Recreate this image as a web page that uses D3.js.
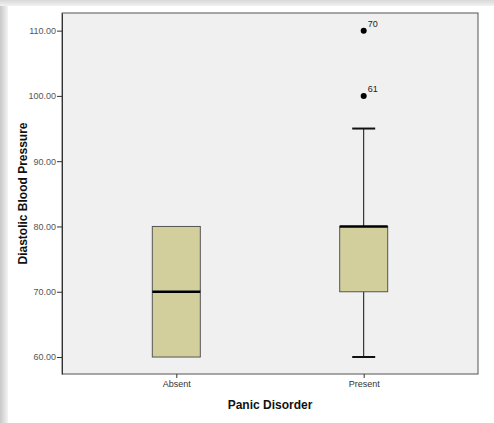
<!DOCTYPE html>
<html>
<head>
<meta charset="utf-8">
<script src="https://cdn.jsdelivr.net/npm/d3@7"></script>
<style>
  body { margin: 0; background: #fff; }
  svg { display: block; font-family: "Liberation Sans", Arial, sans-serif; }
</style>
</head>
<body>
<svg id="chart" width="494" height="423"></svg>
<script>
// box plot values
var groups = ["Absent", "Present"];
var q1 = [60, 70];
var medians = [70, 80];
var q3 = [80, 80];
var whiskLo = [60, 60];
var whiskHi = [80, 95];
var outliers = [
  {group: "Present", value: 100, label: "61"},
  {group: "Present", value: 110, label: "70"}
];
var yTicks = [60, 70, 80, 90, 100, 110];

var svg = d3.select('#chart');
// note: "top" clashes with window.top, so use pTop etc.
var pLeft = 62, pRight = 478, pTop = 13, pBottom = 374;

// frame shadow on the left and top edge
var defs = svg.append('defs');
var gl = defs.append('linearGradient').attr('id', 'shL');
gl.append('stop').attr('offset', '0%').attr('stop-color', '#c8c8c8');
gl.append('stop').attr('offset', '100%').attr('stop-color', '#f4f4f4');
var gt = defs.append('linearGradient').attr('id', 'shT')
  .attr('x1', 0).attr('y1', 0).attr('x2', 0).attr('y2', 1);
gt.append('stop').attr('offset', '0%').attr('stop-color', '#d8d8d8');
gt.append('stop').attr('offset', '100%').attr('stop-color', '#f2f2f2');
svg.append('rect').attr('x', 0).attr('y', 0).attr('width', 8).attr('height', 423).attr('fill', 'url(#shL)');
svg.append('rect').attr('x', 0).attr('y', 0).attr('width', 494).attr('height', 6).attr('fill', 'url(#shT)');

var y = d3.scaleLinear().domain([57.4, 112.7]).range([pBottom, pTop]);
var x = d3.scalePoint().domain(groups).range([pLeft, pRight]).padding(0.61);

svg.append('rect')
  .attr('x', pLeft).attr('y', pTop)
  .attr('width', pRight - pLeft).attr('height', pBottom - pTop)
  .attr('fill', '#f0f0f0')
  .attr('stroke', '#555').attr('stroke-width', 1);

var yAxis = svg.append('g')
  .attr('transform', 'translate(' + pLeft + ',0)')
  .call(d3.axisLeft(y).tickValues(yTicks).tickSize(5).tickSizeOuter(0).tickPadding(1).tickFormat(d3.format('.2f')));
yAxis.select('.domain').attr('stroke', '#333');
yAxis.selectAll('.tick line').attr('stroke', '#333');
yAxis.selectAll('text').attr('font-size', 9).attr('fill', '#555').attr('font-family', 'Liberation Sans, Arial');

var xAxis = svg.append('g')
  .attr('transform', 'translate(0,' + pBottom + ')')
  .call(d3.axisBottom(x).tickSize(4).tickSizeOuter(0).tickPadding(3));
xAxis.select('.domain').remove();
xAxis.selectAll('.tick line').attr('stroke', '#333');
xAxis.selectAll('text').attr('font-size', 9).attr('fill', '#333').attr('font-family', 'Liberation Sans, Arial');

var boxW = 48, capW = 23;
var data = groups.map(function (g, i) {
  return {g: g, q1: q1[i], med: medians[i], q3: q3[i], lo: whiskLo[i], hi: whiskHi[i]};
});

var box = svg.selectAll('.box').data(data).enter().append('g').attr('class', 'box');

// whiskers
box.append('line')
  .attr('x1', function (d) { return x(d.g); }).attr('x2', function (d) { return x(d.g); })
  .attr('y1', function (d) { return y(d.q3); }).attr('y2', function (d) { return y(d.hi); })
  .attr('stroke', '#111');
box.append('line')
  .attr('x1', function (d) { return x(d.g); }).attr('x2', function (d) { return x(d.g); })
  .attr('y1', function (d) { return y(d.q1); }).attr('y2', function (d) { return y(d.lo); })
  .attr('stroke', '#111');

box.append('rect')
  .attr('x', function (d) { return x(d.g) - boxW / 2; })
  .attr('y', function (d) { return y(d.q3); })
  .attr('width', boxW)
  .attr('height', function (d) { return y(d.q1) - y(d.q3); })
  .attr('fill', '#d3cf9d')
  .attr('stroke', '#555').attr('stroke-width', 1);

// caps, only where the whisker sticks out of the box
box.filter(function (d) { return d.hi > d.q3; }).append('line')
  .attr('x1', function (d) { return x(d.g) - capW / 2; })
  .attr('x2', function (d) { return x(d.g) + capW / 2; })
  .attr('y1', function (d) { return y(d.hi); }).attr('y2', function (d) { return y(d.hi); })
  .attr('stroke', '#111').attr('stroke-width', 2);
box.filter(function (d) { return d.lo < d.q1; }).append('line')
  .attr('x1', function (d) { return x(d.g) - capW / 2; })
  .attr('x2', function (d) { return x(d.g) + capW / 2; })
  .attr('y1', function (d) { return y(d.lo); }).attr('y2', function (d) { return y(d.lo); })
  .attr('stroke', '#111').attr('stroke-width', 2);

box.append('line')
  .attr('x1', function (d) { return x(d.g) - boxW / 2; })
  .attr('x2', function (d) { return x(d.g) + boxW / 2; })
  .attr('y1', function (d) { return y(d.med); }).attr('y2', function (d) { return y(d.med); })
  .attr('stroke', '#000').attr('stroke-width', 2.5);

svg.selectAll('.out').data(outliers).enter().append('circle')
  .attr('cx', function (d) { return x(d.group); })
  .attr('cy', function (d) { return y(d.value); })
  .attr('r', 3).attr('fill', '#000');
svg.selectAll('.outlab').data(outliers).enter().append('text')
  .attr('x', function (d) { return x(d.group) + 4; })
  .attr('y', function (d) { return y(d.value) - 4; })
  .attr('font-size', 9).attr('fill', '#222')
  .text(function (d) { return d.label; });

svg.append('text')
  .attr('x', (pLeft + pRight) / 2).attr('y', 409)
  .attr('text-anchor', 'middle')
  .attr('font-size', 12).attr('font-weight', 'bold').attr('fill', '#111')
  .text('Panic Disorder');

svg.append('text')
  .attr('transform', 'translate(27,' + (pTop + pBottom) / 2 + ') rotate(-90)')
  .attr('text-anchor', 'middle')
  .attr('font-size', 12).attr('font-weight', 'bold').attr('fill', '#111')
  .text('Diastolic Blood Pressure');
</script>
</body>
</html>
